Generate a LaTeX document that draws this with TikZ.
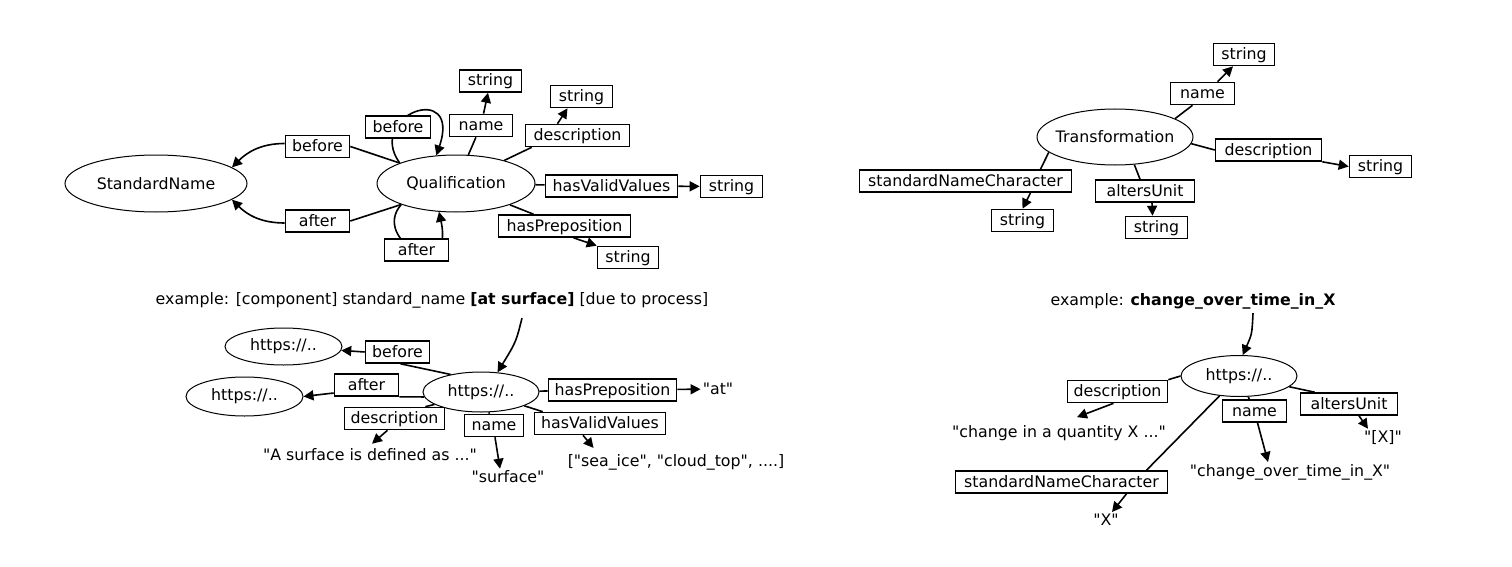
\documentclass[tikz,border=0pt]{standalone}
\usepackage{fontspec}
\setmainfont{DejaVu Sans}[Ligatures=TeXOff]
\usetikzlibrary{shapes.geometric,arrows.meta}
\pgfdeclarelayer{bg}
\pgfsetlayers{bg,main}
\newcommand\zw[1]{\makebox[0pt]{#1}}
\begin{document}
\begin{tikzpicture}[x=1pt,y=-1pt,
  font=\fontsize{15.8}{19}\selectfont,
  ell/.style={ellipse,draw,line width=1pt,fill=white,inner sep=0pt},
  box/.style={rectangle,draw,line width=1.6pt,fill=white,inner sep=0pt,minimum height=22pt,minimum width=#1pt,text height=12pt,text depth=2pt},
  lbl/.style={inner sep=2pt},
  conn/.style={line width=1.6pt},
  arr/.style={line width=1.6pt,-{Triangle[length=10pt,width=10pt]}},
]
\useasboundingbox (0,0) rectangle (1512,567);

% ---------- top left ----------
\node[ell,minimum width=182pt,minimum height=57pt] (SN) at (156,183.5) {\zw{StandardName}};
\node[ell,minimum width=158pt,minimum height=57pt] (Q) at (456,183.5) {\zw{Qualification}};
\node[box=64] (bl) at (317.5,146.5) {before};
\node[box=64] (al) at (317.5,221) {after};
\node[box=65] (blp) at (398,127) {before};
\node[box=64] (alp) at (416.5,250) {after};
\node[box=63] (nQ) at (481,125.5) {name};
\node[box=62] (s1) at (490.5,81) {string};
\node[box=104] (dQ) at (577.5,135.5) {description};
\node[box=62] (s2) at (581.5,96.5) {string};
\node[box=132] (vQ) at (611.5,186) {hasValidValues};
\node[box=62] (s3) at (731.5,186.5) {string};
\node[box=132] (pQ) at (564.5,226) {hasPreposition};
\node[box=61] (s4) at (628,257.5) {string};

% ---------- top right ----------
\node[ell,minimum width=156pt,minimum height=56pt] (T) at (1115,137) {\zw{Transformation}};
\node[box=64] (nT) at (1202.5,93.5) {name};
\node[box=61] (s5) at (1244,54.5) {string};
\node[box=106] (dT) at (1268.5,150) {description};
\node[box=62] (s6) at (1380.5,166.5) {string};
\node[box=212] (cT) at (965.5,181) {standardNameCharacter};
\node[box=62] (s7) at (1022.5,220.5) {string};
\node[box=99] (uT) at (1145,191) {altersUnit};
\node[box=62] (s8) at (1156.5,227.5) {string};

% ---------- bottom left ----------
\node[lbl] (ex1) at (432,300) {example: [component] standard\_name \textbf{[at surface]} [due to process]};
\node[ell,minimum width=116pt,minimum height=40pt] (C) at (481,392) {\zw{https://..}};
\node[ell,minimum width=117pt,minimum height=37pt] (L1) at (283.5,346.5) {\zw{https://..}};
\node[ell,minimum width=117pt,minimum height=39pt] (L2) at (244.5,396.5) {\zw{https://..}};
\node[box=64] (bB) at (397.5,352) {before};
\node[box=64] (aB) at (366.5,385) {after};
\node[box=100] (dB) at (394.5,418.5) {description};
\node[box=59] (nB) at (494,425.5) {name};
\node[box=131] (vB) at (600,423.5) {hasValidValues};
\node[box=128] (pB) at (612.5,390) {hasPreposition};
\node[lbl] (tAt) at (718,389) {"at"};
\node[lbl] (t1) at (370,455) {"A surface is defined as ..."};
\node[lbl] (t2) at (508,477) {"surface"};
\node[lbl] (t3) at (676,462) {["sea\_ice", "cloud\_top", ....]};

% ---------- bottom right ----------
\node[lbl] (ex2) at (1193,301) {example: \textbf{change\_over\_time\_in\_X}};
\node[ell,minimum width=116pt,minimum height=41pt] (D) at (1239,376) {\zw{https://..}};
\node[box=100] (dD) at (1117.5,391.5) {description};
\node[box=212] (cD) at (1061.5,482) {standardNameCharacter};
\node[box=64] (nD) at (1254.5,411) {name};
\node[box=97] (uD) at (1349,404) {altersUnit};
\node[lbl] (t4) at (1059,433) {"change in a quantity X ..."};
\node[lbl] (tX) at (1106,520) {"X"};
\node[lbl] (t5) at (1290,472) {"change\_over\_time\_in\_X"};
\node[lbl] (tXb) at (1383,438) {"[X]"};

\begin{pgfonlayer}{bg}
% top left
\draw[conn] (Q.160) -- (bl.east);
\draw[arr] ([yshift=3pt]bl.west) to[out=180,in=45] (SN.12);
\draw[conn] (Q.201) -- (al.east);
\draw[arr] ([yshift=-2pt]al.west) to[out=180,in=-45] (SN.-12);
\draw[arr] (Q.160) .. controls (365,115) and (462,80) .. (Q.125);
\draw[arr] (Q.201) .. controls (370,240) and (455,285) .. (Q.239);
\draw[conn] (Q) -- (nQ);
\draw[arr] (nQ) -- (s1);
\draw[conn] (Q) -- ([xshift=7pt]dQ.south west);
\draw[arr] ([xshift=-20pt]dQ.north) -- ([xshift=-14pt]s2.south);
\draw[conn] (Q) -- (vQ);
\draw[arr] (vQ) -- (s3);
\draw[conn] (Q) -- ([xshift=-31pt]pQ.north);
\draw[arr] ([xshift=9pt]pQ.south) -- (s4.north west);
% top right
\draw[conn] (T.17) -- ([xshift=-10pt]nT.south);
\draw[arr] ([xshift=15pt]nT.north) -- ([xshift=-11pt]s5.south);
\draw[conn] (T.-5) -- (dT.west);
\draw[arr] (dT.south east) -- (s6.west);
\draw[conn] (T.193) -- ([xshift=75pt]cT.north);
\draw[arr] ([xshift=65pt]cT.south) -- (s7.north);
\draw[conn] (T.-55) -- ([xshift=-5pt]uT.north);
\draw[arr] ([xshift=7pt]uT.south) -- ([xshift=-4pt]s8.north);
% bottom left
\draw[arr] ([xshift=90pt,yshift=-8pt]ex1.south) .. controls (516,342) .. (C.50);
\draw[conn] (C.150) -- ([xshift=3pt]bB.south);
\draw[arr] (bB.west) -- (L1);
\draw[conn] (C.185) -- (aB.south east);
\draw[arr] ([yshift=-8pt]aB.west) -- (L2.east);
\draw[conn] (C.195) -- ([xshift=-20pt]dB.north east);
\draw[arr] ([xshift=-7pt]dB.south) -- ([xshift=2pt,yshift=3pt]t1.north);
\draw[conn] (C) -- (nB);
\draw[arr] ([xshift=1pt]nB.south) -- ([xshift=-8pt]t2.north);
\draw[conn] (C) -- ([xshift=9pt]vB.north west);
\draw[arr] ([xshift=-17pt]vB.south) -- ([xshift=28pt,yshift=4pt]t3.north west);
\draw[conn] (C) -- (pB);
\draw[arr] (pB) -- (tAt);
% bottom right
\draw[arr] ([xshift=60pt,yshift=-2pt]ex2.south) .. controls (1252,334) .. (D.80);
\draw[conn] (D.west) -- (dD.north east);
\draw[arr] ([xshift=-4pt]dD.south) -- ([xshift=18pt,yshift=6pt]t4.north);
\draw[conn] (D) -- ([xshift=85pt]cD.north);
\draw[arr] ([xshift=65pt]cD.south) -- ([xshift=6pt]tX.north);
\draw[conn] (D) -- (nD);
\draw[arr] ([xshift=3pt]nD.south) -- ([xshift=-22pt]t5.north);
\draw[conn] (D) -- ([xshift=15pt]uD.north west);
\draw[arr] ([xshift=10pt]uD.south) -- ([xshift=-15pt]tXb.north);
\end{pgfonlayer}
\end{tikzpicture}
\end{document}
